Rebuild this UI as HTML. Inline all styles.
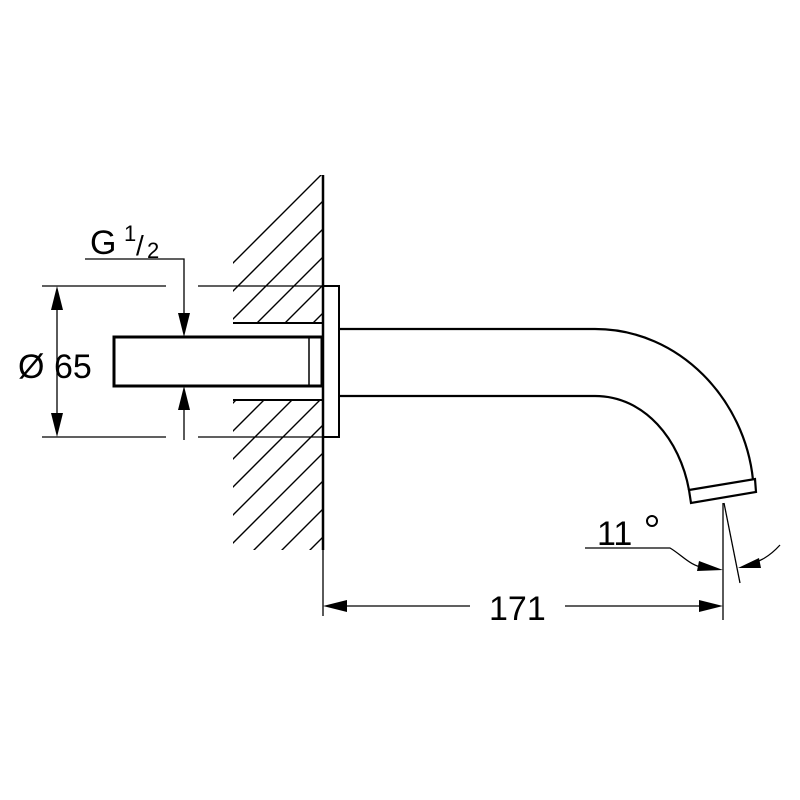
<!DOCTYPE html>
<html><head><meta charset="utf-8"><style>html,body{margin:0;background:#fff;overflow:hidden;width:800px;height:800px}svg{display:block}</style></head><body>
<svg width="800" height="800" viewBox="0 0 800 800" xmlns="http://www.w3.org/2000/svg">
<defs>
<clipPath id="hc"><path d="M233 175H323V323H233Z M233 400H323V550H233Z"/></clipPath>
</defs>
<rect width="800" height="800" fill="#fff"/>
<g clip-path="url(#hc)" stroke="#000" stroke-width="1.4">
<path d="M100 480L420 160 M100 508L420 188 M100 536L420 216 M100 564L420 244 M100 592L420 272 M100 620L420 300 M100 648L420 328 M100 676L420 356 M100 704L420 384 M100 732L420 412 M100 760L420 440 M100 788L420 468 M100 816L420 496 M100 844L420 524 M100 872L420 552 M100 900L420 580 M100 452L420 132 M100 424L420 104 M100 396L420 76"/>
</g>
<g fill="none" stroke="#000">
<line x1="323" y1="175" x2="323" y2="550" stroke-width="2.5"/>
<line x1="233" y1="323" x2="323" y2="323" stroke-width="2"/>
<line x1="233" y1="400" x2="323" y2="400" stroke-width="2"/>
<rect x="323" y="286" width="16" height="151" stroke-width="2"/>
<path d="M339 329H595C680 329 745 400 753 480" stroke-width="2.2"/>
<path d="M339 396H595C645 396 680 440 689 490" stroke-width="2.2"/>
<path d="M689 490L755 479L756 492L691 503Z" stroke-width="2.2"/>
<rect x="114" y="337" width="208" height="49" stroke-width="3"/>
<line x1="309" y1="337" x2="309" y2="386" stroke-width="1.5"/>
<circle cx="652" cy="521" r="5" stroke-width="2"/>
<g stroke-width="1.3">
<path d="M42 286H166M198 286H323M42 437H166M198 437H323"/>
<line x1="57" y1="300" x2="57" y2="423"/>
<path d="M85 259H184V320"/>
<line x1="184" y1="402" x2="184" y2="440"/>
<line x1="323" y1="550" x2="323" y2="616"/>
<line x1="723" y1="503" x2="723" y2="620"/>
<line x1="724" y1="503" x2="740" y2="583"/>
<path d="M335 606H470M565 606H711"/>
<path d="M585 548H670C682 555 690 566 705 568"/>
<path d="M780 545C770 556 760 562 745 566"/>
</g>
</g>
<g fill="#000">
<path d="M57 286L51 310H63Z"/><path d="M57 437L51 413H63Z"/>
<path d="M184 337L178 313H190Z"/><path d="M184 386L178 410H190Z"/>
<path d="M323 606L347 600V612Z"/><path d="M723 606L699 600V612Z"/>
<path d="M723 570L699 561L697 571Z"/><path d="M738 568L759 558L761 568Z"/>
</g>
<g font-family="Liberation Sans, sans-serif" fill="#000">
<text x="18" y="378" font-size="34">Ø</text>
<text x="54" y="378" font-size="34">65</text>
<text x="90" y="254" font-size="34">G</text>
<text x="124" y="241" font-size="22">1</text>
<text x="136" y="255" font-size="28">/</text>
<text x="147" y="258" font-size="22">2</text>
<text x="489" y="620" font-size="34">171</text>
<text x="597" y="545" font-size="34">11</text>
</g>
</svg>
</body></html>
